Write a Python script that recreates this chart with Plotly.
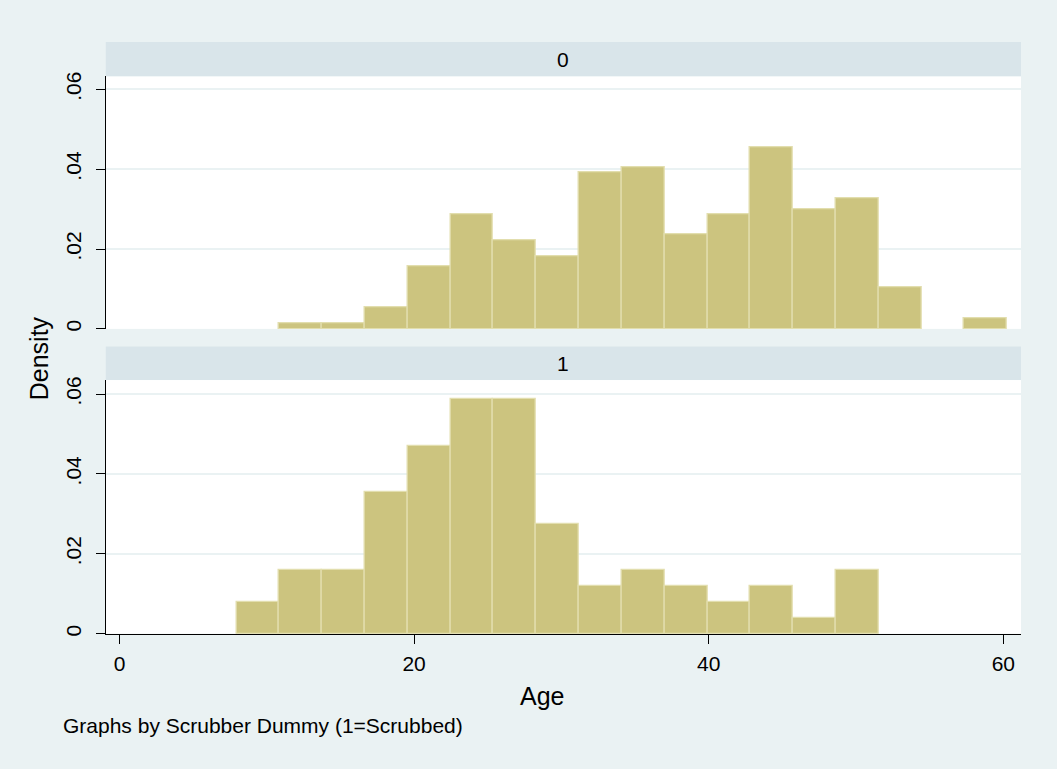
import plotly.graph_objects as go

# ---- data ----
BIN_START = 7.93
BIN_WIDTH = 2.907
N_BINS = 18

# density per bin, group 0 (not scrubbed)
density_group0 = [0.0, 0.0014, 0.0014, 0.0053, 0.0157, 0.0287, 0.0222, 0.0183, 0.0392,
                  0.0404, 0.0236, 0.0287, 0.0456, 0.0299, 0.0327, 0.0104, 0.0, 0.0027]
# density per bin, group 1 (scrubbed)
density_group1 = [0.0080, 0.0159, 0.0159, 0.0354, 0.0471, 0.0588, 0.0588, 0.0275, 0.0120,
                  0.0159, 0.0120, 0.0080, 0.0120, 0.0040, 0.0159, 0.0, 0.0, 0.0]

group_labels = ["0", "1"]
x_ticks = [0, 20, 40, 60]
y_ticks = [0, 0.02, 0.04, 0.06]
y_ticklabels = ["0", ".02", ".04", ".06"]

x_title = "Age"
y_title = "Density"
note_text = "Graphs by Scrubber Dummy (1=Scrubbed)"

# ---- style ----
BG = "#EAF2F3"
STRIP = "#D9E5EA"
BAR = "#CCC47F"
BAR_EDGE = "#E2DEAE"
FONT = "Arial, Liberation Sans, Helvetica, sans-serif"
W, H = 1057, 769

centers = [BIN_START + BIN_WIDTH * (i + 0.5) for i in range(N_BINS)]

fig = go.Figure()

for dens, xa, ya in [(density_group0, "x", "y"), (density_group1, "x2", "y2")]:
    xs = [c for c, d in zip(centers, dens) if d > 0]
    ys = [d for d in dens if d > 0]
    fig.add_trace(go.Bar(
        x=xs, y=ys, width=BIN_WIDTH, xaxis=xa, yaxis=ya,
        marker=dict(color=BAR, line=dict(color=BAR_EDGE, width=1.3)),
        showlegend=False, hoverinfo="x+y",
    ))

xdom = [105.8 / W, 1021 / W]
top_dom = [1 - 327.3 / H, 1 - 72 / H]
bot_dom = [1 - 635.3 / H, 1 - 379 / H]
xrange = [-0.93, 61.2]

common_y = dict(
    tickvals=y_ticks, ticktext=y_ticklabels, tickangle=-90,
    ticks="outside", ticklen=9, tickwidth=1.2, tickcolor="black",
    showline=True, linecolor="black", linewidth=1.2,
    showgrid=True, gridcolor=BG, gridwidth=1.6,
    zeroline=False, tickfont=dict(family=FONT, size=21, color="black"),
    ticklabelstandoff=6,
)

fig.update_layout(
    width=W, height=H,
    margin=dict(l=0, r=0, t=0, b=0),
    paper_bgcolor=BG, plot_bgcolor="white",
    bargap=0,
    font=dict(family=FONT, color="black"),
    xaxis=dict(domain=xdom, range=xrange, anchor="y", showline=False,
               showticklabels=False, ticks="", showgrid=False, zeroline=False),
    yaxis=dict(domain=top_dom, range=[0, 0.06327], anchor="x", **common_y),
    xaxis2=dict(domain=xdom, range=xrange, anchor="y2", showline=True,
                linecolor="black", linewidth=1.2, tickvals=x_ticks,
                ticks="outside", ticklen=9, tickwidth=1.2, tickcolor="black",
                showgrid=False, zeroline=False, ticklabelstandoff=2,
                tickfont=dict(family=FONT, size=21, color="black")),
    yaxis2=dict(domain=bot_dom, range=[0, 0.06352], anchor="x2", **common_y),
)

# strip headers
strips = [(1 - 72 / H, 1 - 37.3 / H), (1 - 379 / H, 1 - 345 / H)]
for (y0, y1), lab in zip(strips, group_labels):
    fig.add_shape(type="rect", xref="paper", yref="paper",
                  x0=xdom[0], x1=xdom[1], y0=y0, y1=y1,
                  fillcolor=STRIP, line=dict(width=0), layer="below")
    fig.add_annotation(xref="paper", yref="paper", x=(xdom[0] + xdom[1]) / 2,
                       y=(y0 + y1) / 2, text=lab, showarrow=False,
                       font=dict(family=FONT, size=21, color="black"),
                       xanchor="center", yanchor="middle")

# axis titles and note
fig.add_annotation(xref="paper", yref="paper", x=542 / W, y=1 - 698 / H,
                   text=x_title, showarrow=False, xanchor="center", yanchor="middle",
                   font=dict(family=FONT, size=25, color="black"))
fig.add_annotation(xref="paper", yref="paper", x=39 / W, y=1 - 357 / H,
                   text=y_title, showarrow=False, textangle=-90,
                   xanchor="center", yanchor="middle",
                   font=dict(family=FONT, size=25, color="black"))
fig.add_annotation(xref="paper", yref="paper", x=61 / W, y=1 - 728 / H,
                   text=note_text, showarrow=False, xanchor="left", yanchor="middle",
                   font=dict(family=FONT, size=21, color="black"))

fig.write_html("out.html",
               config={"displayModeBar": False},
               post_script="document.body.style.margin='0px';document.body.style.overflow='hidden';")
